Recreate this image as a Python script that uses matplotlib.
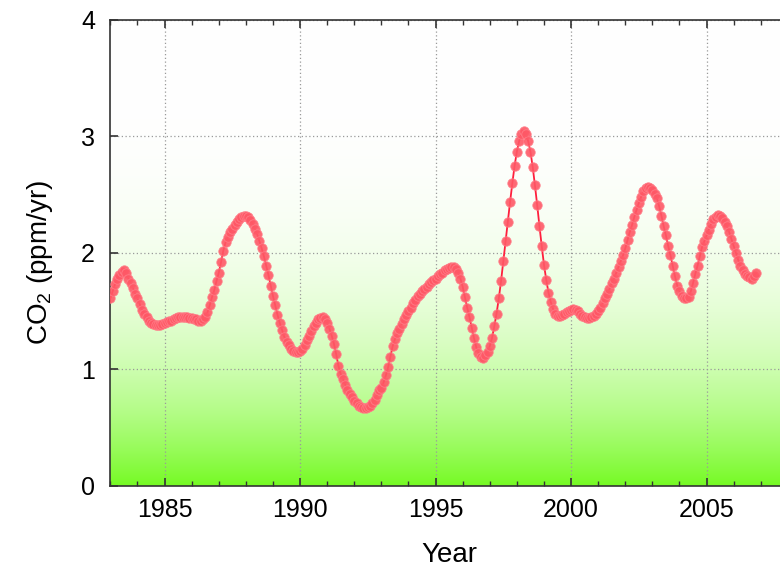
import numpy as np
import matplotlib
matplotlib.use("Agg")
import matplotlib.pyplot as plt
from matplotlib.ticker import MultipleLocator

plt.rcParams['font.family'] = ['Liberation Sans', 'DejaVu Sans']

# Monthly growth rate of atmospheric CO2 (ppm/yr), starting January 1983
start_year = 1983
growth_1983 = [1.61, 1.67, 1.73, 1.78, 1.81, 1.84, 1.85, 1.83, 1.78, 1.74, 1.70, 1.65]
growth_1984 = [1.61, 1.56, 1.51, 1.48, 1.45, 1.42, 1.40, 1.39, 1.385, 1.38, 1.38, 1.39]
growth_1985 = [1.40, 1.41, 1.42, 1.42, 1.43, 1.44, 1.45, 1.45, 1.45, 1.45, 1.45, 1.44]
growth_1986 = [1.44, 1.43, 1.43, 1.42, 1.42, 1.43, 1.45, 1.49, 1.55, 1.62, 1.68, 1.76]
growth_1987 = [1.83, 1.92, 2.02, 2.09, 2.14, 2.18, 2.21, 2.24, 2.27, 2.29, 2.31, 2.32]
growth_1988 = [2.32, 2.31, 2.28, 2.25, 2.21, 2.16, 2.10, 2.04, 1.97, 1.89, 1.81, 1.72]
growth_1989 = [1.63, 1.55, 1.47, 1.40, 1.34, 1.28, 1.24, 1.21, 1.18, 1.16, 1.15, 1.15]
growth_1990 = [1.16, 1.18, 1.21, 1.25, 1.29, 1.33, 1.37, 1.40, 1.43, 1.44, 1.45, 1.43]
growth_1991 = [1.40, 1.35, 1.29, 1.22, 1.13, 1.03, 0.96, 0.92, 0.87, 0.82, 0.79, 0.76]
growth_1992 = [0.73, 0.71, 0.69, 0.68, 0.67, 0.67, 0.68, 0.69, 0.71, 0.74, 0.78, 0.82]
growth_1993 = [0.84, 0.89, 0.95, 1.02, 1.11, 1.20, 1.26, 1.31, 1.35, 1.39, 1.43, 1.47]
growth_1994 = [1.50, 1.53, 1.57, 1.60, 1.63, 1.65, 1.67, 1.69, 1.71, 1.73, 1.75, 1.77]
growth_1995 = [1.78, 1.80, 1.82, 1.83, 1.85, 1.86, 1.87, 1.88, 1.88, 1.86, 1.83, 1.78]
growth_1996 = [1.71, 1.62, 1.53, 1.45, 1.36, 1.27, 1.19, 1.14, 1.11, 1.10, 1.12, 1.15]
growth_1997 = [1.20, 1.27, 1.37, 1.48, 1.61, 1.76, 1.93, 2.10, 2.27, 2.44, 2.60, 2.75]
growth_1998 = [2.87, 2.96, 3.02, 3.05, 3.02, 2.96, 2.87, 2.74, 2.58, 2.41, 2.23, 2.06]
growth_1999 = [1.90, 1.77, 1.66, 1.58, 1.52, 1.48, 1.46, 1.46, 1.47, 1.48, 1.49, 1.50]
growth_2000 = [1.51, 1.52, 1.51, 1.50, 1.48, 1.46, 1.45, 1.44, 1.44, 1.45, 1.46, 1.48]
growth_2001 = [1.50, 1.53, 1.57, 1.61, 1.65, 1.69, 1.74, 1.78, 1.83, 1.88, 1.93, 1.98]
growth_2002 = [2.04, 2.11, 2.18, 2.24, 2.31, 2.37, 2.43, 2.48, 2.53, 2.56, 2.57, 2.56]
growth_2003 = [2.54, 2.51, 2.47, 2.40, 2.32, 2.23, 2.15, 2.06, 1.98, 1.89, 1.80, 1.72]
growth_2004 = [1.67, 1.63, 1.61, 1.61, 1.62, 1.67, 1.74, 1.82, 1.89, 1.97, 2.05, 2.10]
growth_2005 = [2.15, 2.20, 2.25, 2.29, 2.31, 2.33, 2.32, 2.30, 2.27, 2.23, 2.18, 2.12]
growth_2006 = [2.06, 2.00, 1.94, 1.89, 1.85, 1.82, 1.80, 1.79, 1.78, 1.80, 1.83]

growth = np.concatenate([
    growth_1983, growth_1984, growth_1985, growth_1986, growth_1987, growth_1988,
    growth_1989, growth_1990, growth_1991, growth_1992, growth_1993, growth_1994,
    growth_1995, growth_1996, growth_1997, growth_1998, growth_1999, growth_2000,
    growth_2001, growth_2002, growth_2003, growth_2004, growth_2005, growth_2006,
])
years = start_year + np.arange(len(growth)) / 12.0

x_ticks = [1985, 1990, 1995, 2000, 2005]
y_ticks = [0, 1, 2, 3, 4]
x_range = (1983, 2008)
y_range = (0, 4)

fig = plt.figure(figsize=(7.8, 5.67), dpi=100)
fig.patch.set_facecolor('white')
ax = fig.add_axes([0.1415, 0.1429, 0.8686, 0.8219])

# white-to-green vertical gradient behind the data
frac = np.linspace(0, 1, 400)[:, None]
w = (1 - frac) ** 3.5
green = np.array([0.46, 0.98, 0.14])
grad = (1 - w)[..., None] * np.ones(3) + w[..., None] * green
grad = np.repeat(grad, 2, axis=1)
ax.imshow(grad, origin='lower', aspect='auto',
          extent=[x_range[0], x_range[1], y_range[0], y_range[1]], zorder=0)

ax.grid(True, which='major', color='#9a9a9a', linestyle=(0, (1, 2)), linewidth=0.9)
ax.set_axisbelow(True)

ax.plot(years, growth, '-', color='#ff1f3d', linewidth=1.3, zorder=3)
ax.plot(years, growth, 'o', markersize=6.8, markerfacecolor='#ff5866',
        markeredgecolor='#ff7f8a', markeredgewidth=0.6, alpha=0.9,
        linestyle='none', zorder=4)

ax.set_xlim(*x_range)
ax.set_ylim(*y_range)
ax.set_xticks(x_ticks)
ax.set_yticks(y_ticks)
ax.xaxis.set_minor_locator(MultipleLocator(1))

ax.tick_params(axis='x', which='both', direction='in', top=True, bottom=True,
               labelsize=18, pad=9, color='#333333')
ax.tick_params(axis='x', which='major', length=6, width=1.2)
ax.tick_params(axis='x', which='minor', length=3.5, width=1.0)
ax.tick_params(axis='y', which='major', direction='in', length=6, width=1.2,
               labelsize=18, pad=11, color='#333333', right=False)

for name in ['left', 'bottom', 'top']:
    ax.spines[name].set_color('#333333')
    ax.spines[name].set_linewidth(1.2)
ax.spines['right'].set_visible(False)

ax.set_xlabel('Year', fontsize=20, va='center')
ax.xaxis.set_label_coords(0.5, -0.148)
ax.set_ylabel('CO$_\\mathregular{2}$ (ppm/yr)', fontsize=20, va='center', ha='center')
ax.yaxis.set_label_coords(-0.104, 0.48)

fig.savefig('out.png', dpi=100)
